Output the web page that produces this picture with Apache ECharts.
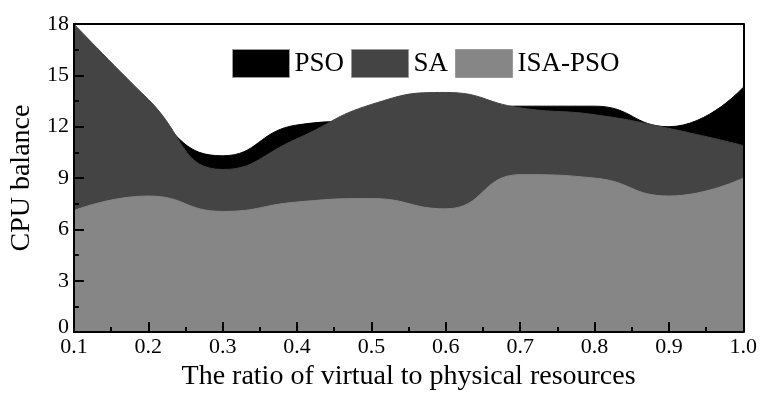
<!DOCTYPE html>
<html>
<head>
<meta charset="utf-8">
<script src="https://cdn.jsdelivr.net/npm/echarts@6/dist/echarts.min.js"></script>
<style>html,body{margin:0;padding:0;background:#fff}#c{width:760px;height:396px}</style>
</head>
<body>
<div id="c"></div>
<script>
var ratios = [0.1, 0.2, 0.3, 0.4, 0.5, 0.6, 0.7, 0.8, 0.9, 1.0];
var psoValues = [17.3, 13.0, 10.3, 12.1, 12.4, 12.8, 13.2, 13.2, 12.0, 14.3];
var saValues = [18.0, 13.6, 9.5, 11.3, 13.3, 14.0, 13.1, 12.7, 11.9, 10.9];
var isaPsoValues = [7.1, 7.95, 7.05, 7.6, 7.8, 7.2, 9.2, 9.0, 7.95, 9.0];
var seriesNames = ['PSO', 'SA', 'ISA-PSO'];
var seriesColors = ['#000000', '#444444', '#868686'];

function pairs(vals) { return ratios.map(function (x, i) { return [x, vals[i]]; }); }
var allValues = [psoValues, saValues, isaPsoValues];

var FONT = 'Liberation Serif';
var AX = {color: '#000', width: 2};
var chart = echarts.init(document.getElementById('c'), null, {renderer: 'canvas'});
chart.setOption({
  animation: false,
  backgroundColor: '#fff',
  textStyle: {fontFamily: FONT, color: '#000'},
  grid: {left: 66, right: 16, top: 24, bottom: 53},
  legend: {
    data: seriesNames,
    left: 232, top: 49, padding: 0,
    icon: 'rect', itemWidth: 57, itemHeight: 28, itemGap: 7,
    itemStyle: {borderColor: '#999', borderWidth: 1},
    textStyle: {fontFamily: FONT, fontSize: 27, color: '#000'}
  },
  xAxis: [{
    type: 'value', min: 0.1, max: 1.0, interval: 0.1, z: 10,
    name: 'The ratio of virtual to physical resources',
    nameLocation: 'middle', nameGap: 30,
    nameTextStyle: {fontFamily: FONT, fontSize: 28, color: '#000'},
    axisLine: {onZero: false, lineStyle: AX},
    axisTick: {inside: true, length: 10, lineStyle: AX},
    minorTick: {show: true, splitNumber: 2, length: 5, lineStyle: AX},
    splitLine: {show: false},
    axisLabel: {fontFamily: FONT, fontSize: 22, color: '#000', margin: 4,
      formatter: function (v) { return (Math.round(v * 10) / 10).toFixed(1); }}
  }, {
    type: 'value', min: 0.1, max: 1.0, interval: 0.1, z: 10, position: 'top',
    axisLine: {show: true, onZero: false, lineStyle: AX},
    axisTick: {show: false}, axisLabel: {show: false}, splitLine: {show: false}
  }],
  yAxis: [{
    type: 'value', min: 0, max: 18, interval: 3, z: 10,
    name: 'CPU balance',
    nameLocation: 'middle', nameGap: 29,
    nameTextStyle: {fontFamily: FONT, fontSize: 28, color: '#000'},
    axisLine: {show: true, onZero: false, lineStyle: AX},
    axisTick: {show: true, inside: true, length: 10, lineStyle: AX},
    minorTick: {show: true, splitNumber: 2, length: 5, lineStyle: AX},
    splitLine: {show: false},
    axisLabel: {fontFamily: FONT, fontSize: 22, color: '#000', margin: 5,
      formatter: function (v) { return v === 0 ? '{z|0}' : String(v); },
      rich: {z: {fontFamily: FONT, fontSize: 22, color: '#000', padding: [0, 0, 10, 0]}}}
  }, {
    type: 'value', min: 0, max: 18, interval: 3, z: 10, position: 'right',
    axisLine: {show: true, onZero: false, lineStyle: AX},
    axisTick: {show: false}, axisLabel: {show: false}, splitLine: {show: false}
  }],
  series: seriesNames.map(function (n, i) {
    return {
      name: n, type: 'line', smooth: 0.5, symbol: 'none',
      data: pairs(allValues[i]),
      itemStyle: {color: seriesColors[i]},
      lineStyle: {color: seriesColors[i], width: 1},
      areaStyle: {color: seriesColors[i], opacity: 1},
      z: 2 + i
    };
  })
});
</script>
</body>
</html>
